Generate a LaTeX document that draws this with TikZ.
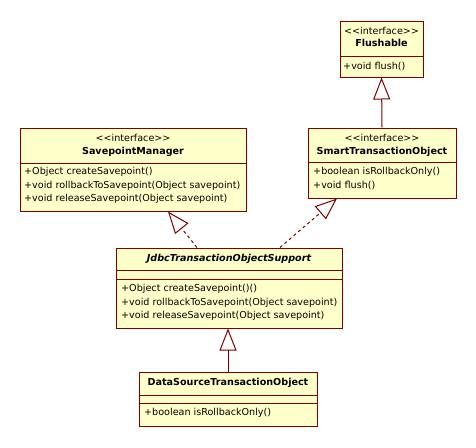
\documentclass[tikz,border=0pt]{standalone}
\usepackage{fontspec}
\newfontfamily\umlfont{DejaVu Sans}
\usetikzlibrary{arrows.meta, calc}
\definecolor{umlfill}{HTML}{FFFFCA}
\definecolor{umlline}{HTML}{800000}

\tikzset{
	classbox/.style={draw=umlline, fill=umlfill, rectangle, inner sep=0pt, line width=1pt},
	member/.style={anchor=west, inner sep=0pt, text height=7pt, text depth=2pt},
	heading/.style={anchor=center, inner sep=0pt, text height=7pt, text depth=2pt},
	generalize/.style={draw=umlline, line width=1pt, -{Triangle[open, length=22pt, width=17pt, fill=white]}},
	realize/.style={generalize, dash pattern=on 3pt off 3pt}
}

\begin{document}
\begin{tikzpicture}[x=1pt, y=-1pt, font=\umlfont\fontsize{9.6}{11}\selectfont]
	\useasboundingbox (0,0) rectangle (476,447);

	% class boxes
	\node[classbox, minimum width=83pt,  minimum height=56pt] (flush) at (381.5,49)  {};
	\node[classbox, minimum width=226pt, minimum height=83pt] (spm)   at (133,169.5) {};
	\node[classbox, minimum width=148pt, minimum height=70pt] (sto)   at (382,163)   {};
	\node[classbox, minimum width=226pt, minimum height=80pt] (jdbc)  at (229,288)   {};
	\node[classbox, minimum width=178pt, minimum height=54pt] (dsto)  at (228,399)   {};

	% compartments
	\draw[umlline, line width=1pt] (flush.west |- 0,56)  -- (flush.east |- 0,56);
	\draw[umlline, line width=1pt] (spm.west |- 0,163)   -- (spm.east |- 0,163);
	\draw[umlline, line width=1pt] (sto.west |- 0,162)   -- (sto.east |- 0,162);
	\draw[umlline, line width=1pt] (jdbc.west |- 0,270)  -- (jdbc.east |- 0,270);
	\draw[umlline, line width=1pt] (jdbc.west |- 0,279)  -- (jdbc.east |- 0,279);
	\draw[umlline, line width=1pt] (dsto.west |- 0,395)  -- (dsto.east |- 0,395);
	\draw[umlline, line width=1pt] (dsto.west |- 0,403)  -- (dsto.east |- 0,403);

	% Flushable
	\node[heading] (flushst) at (flush.center |- 0,32) {<<interface>>};
	\node[heading] (flushnm) at (flush.center |- 0,44) {\bfseries Flushable};
	\node[member] (flushm1) at (343,67) {+void flush()};

	% SavepointManager
	\node[heading] (spmst) at (spm.center |- 0,139) {<<interface>>};
	\node[heading] (spmnm) at (spm.center |- 0,152) {\bfseries SavepointManager};
	\node[member] (spmm1) at (24,172) {+Object createSavepoint()};
	\node[member] (spmm2) at (24,186) {+void rollbackToSavepoint(Object savepoint)};
	\node[member] (spmm3) at (24,199) {+void releaseSavepoint(Object savepoint)};

	% SmartTransactionObject
	\node[heading] (stost) at (sto.center |- 0,139) {<<interface>>};
	\node[heading] (stonm) at (sto.center |- 0,152) {\bfseries SmartTransactionObject};
	\node[member] (stom1) at (313,172) {+boolean isRollbackOnly()};
	\node[member] (stom2) at (313,186) {+void flush()};

	% JdbcTransactionObjectSupport
	\node[heading] (jdbcnm) at (jdbc.center |- 0,259) {\bfseries\itshape JdbcTransactionObjectSupport};
	\node[member] (jdbcm1) at (121,289) {+Object createSavepoint()()};
	\node[member] (jdbcm2) at (121,303) {+void rollbackToSavepoint(Object savepoint)};
	\node[member] (jdbcm3) at (121,316) {+void releaseSavepoint(Object savepoint)};

	% DataSourceTransactionObject
	\node[heading] (dstonm) at (dsto.center |- 0,383) {\bfseries DataSourceTransactionObject};
	\node[member] (dstom1) at (144,413) {+boolean isRollbackOnly()};

	% relations
	\draw[generalize] (sto.north) -- (flush.south);
	\draw[realize] ($(jdbc.north)+(-32,0)$) -- ($(spm.south)+(35,0)$);
	\draw[realize] ($(jdbc.north)+(51,0)$) -- ($(sto.south)+(-45,0)$);
	\draw[generalize] (dsto.north) -- (dsto.north |- jdbc.south);
\end{tikzpicture}
\end{document}
